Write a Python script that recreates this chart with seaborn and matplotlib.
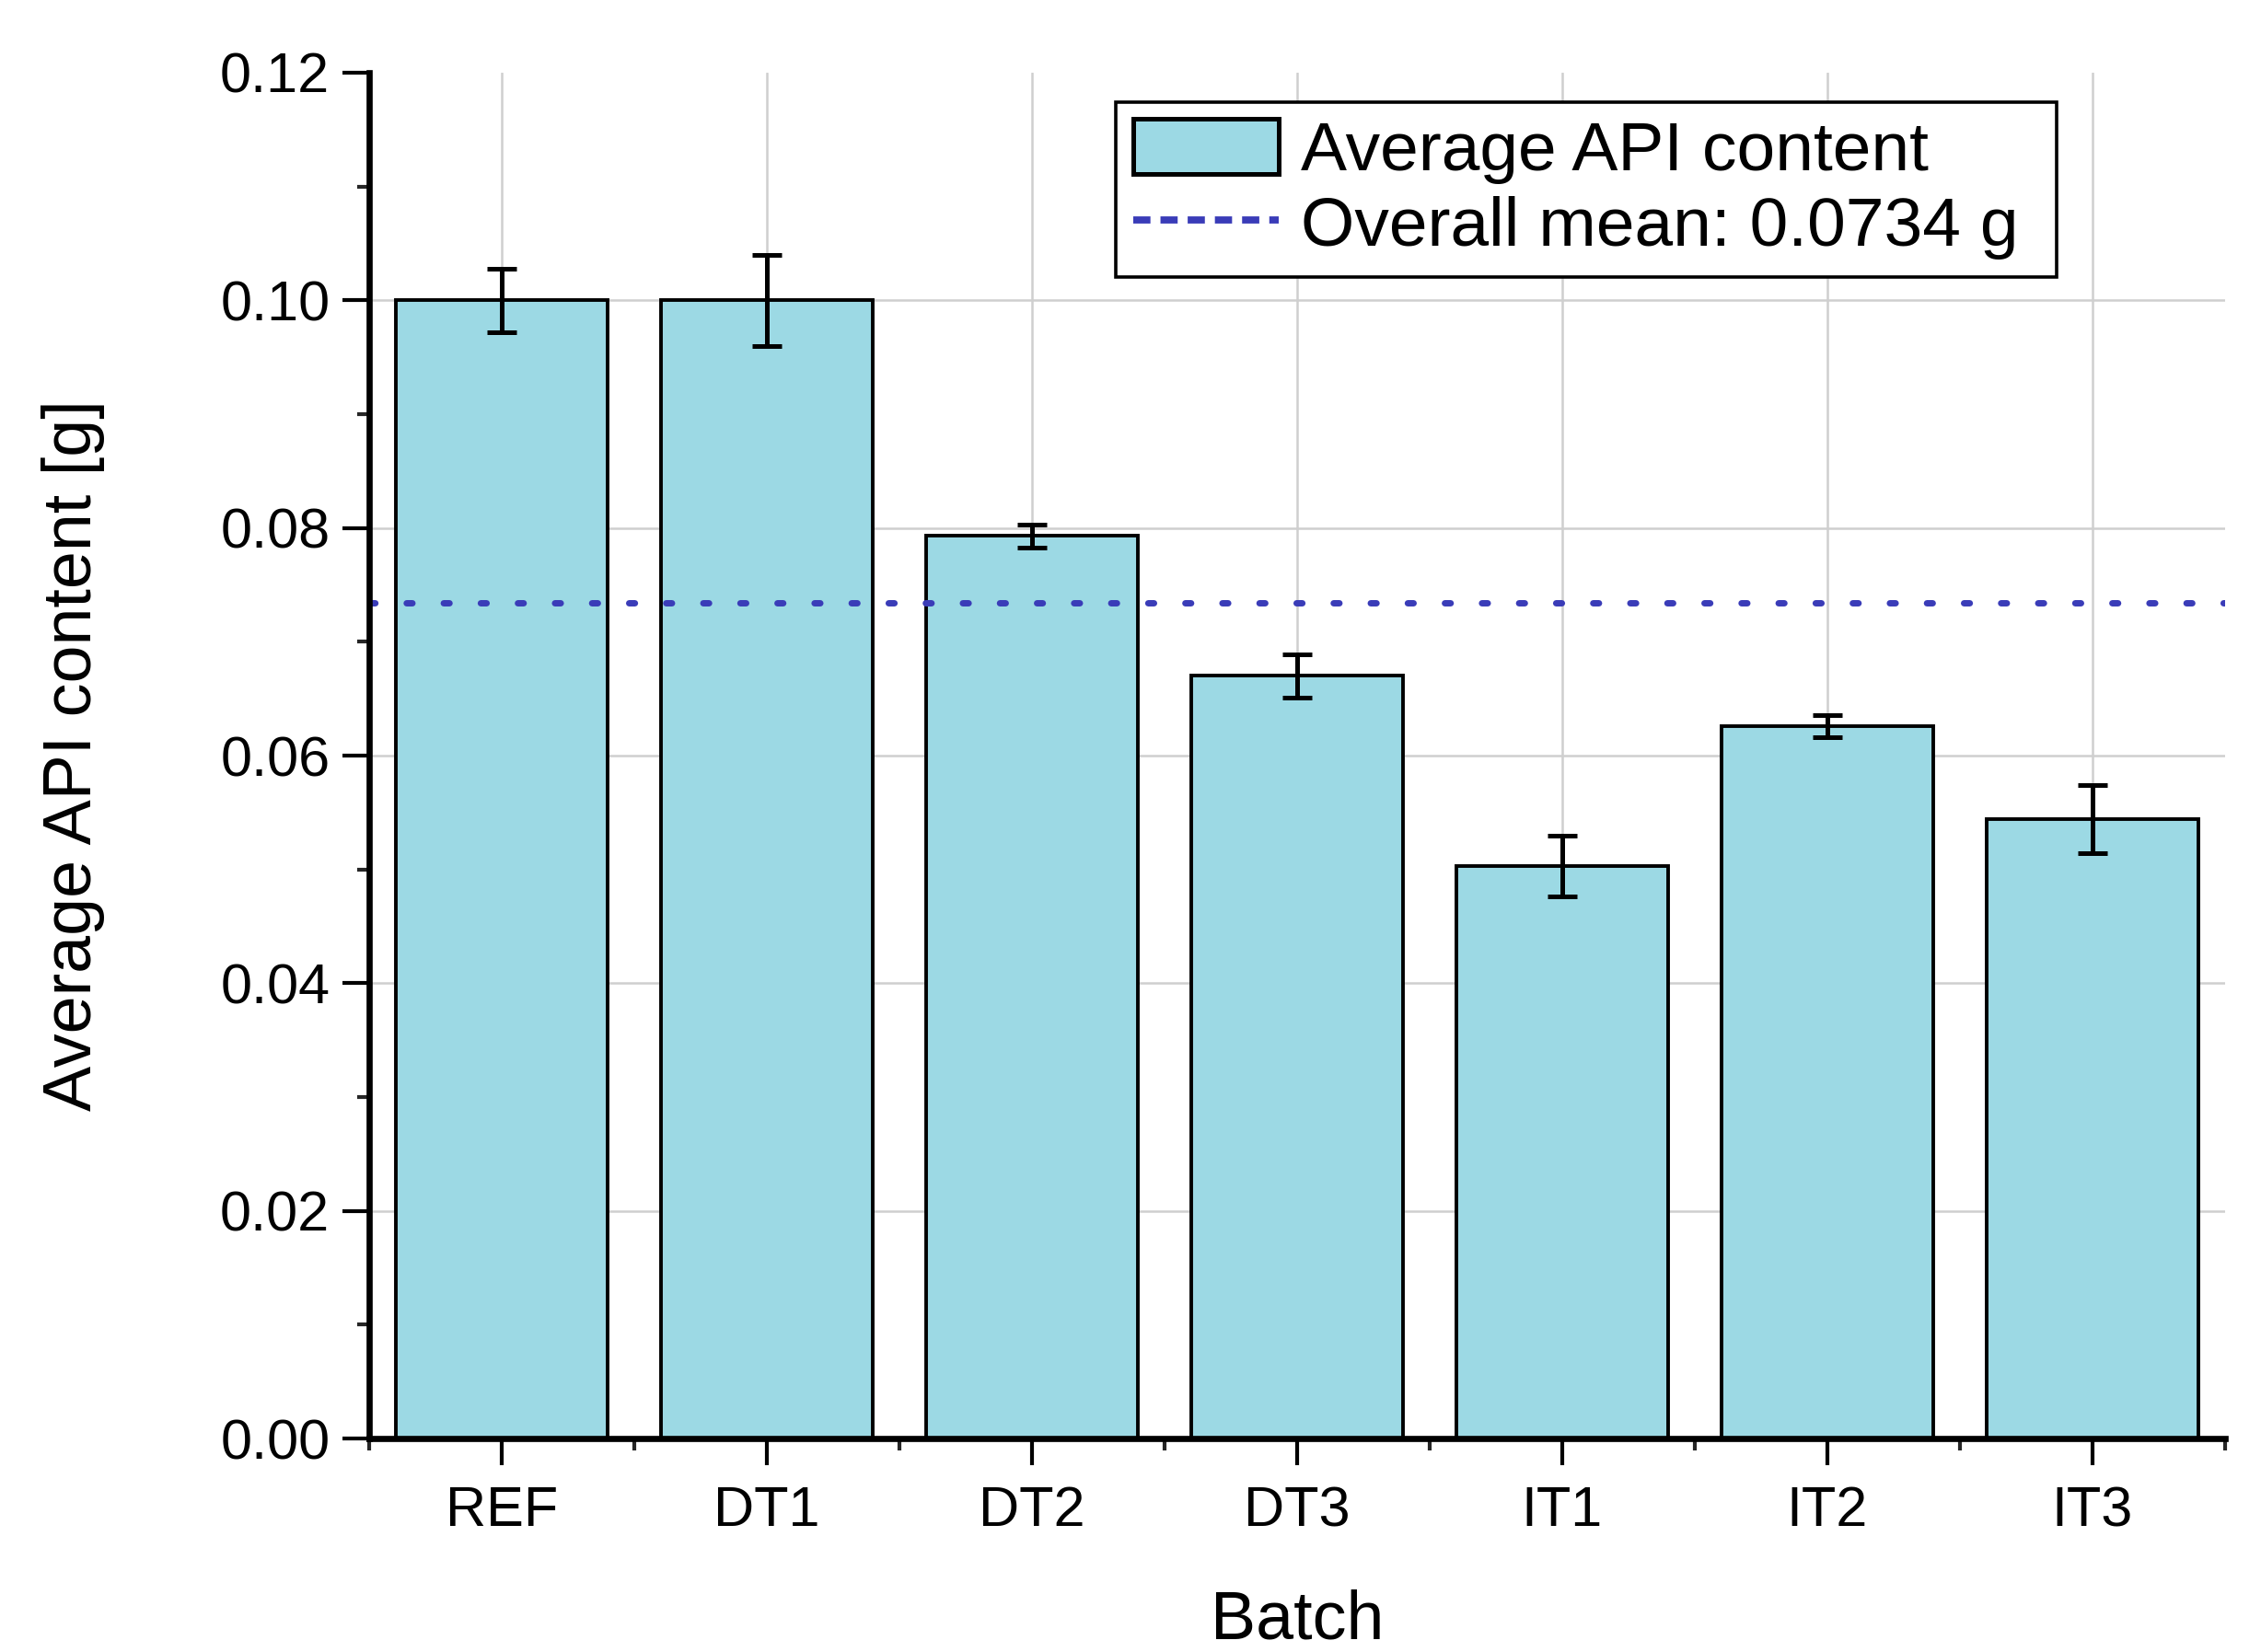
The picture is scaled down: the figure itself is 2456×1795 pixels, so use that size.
import seaborn as sns
import matplotlib.pyplot as plt
import pandas as pd
from matplotlib.lines import Line2D
from matplotlib.patches import Patch
from matplotlib.ticker import MultipleLocator

batches = ['REF', 'DT1', 'DT2', 'DT3', 'IT1', 'IT2', 'IT3']
api_content = [0.1000, 0.1000, 0.0793, 0.0670, 0.0503, 0.0626, 0.0544]
api_err = [0.0028, 0.0040, 0.0010, 0.0019, 0.0027, 0.0010, 0.0030]
overall_mean = 0.0734

sns.set_style('white')
plt.rcParams['font.family'] = ['Liberation Sans', 'DejaVu Sans']
plt.rcParams['text.color'] = 'black'
plt.rcParams['axes.labelcolor'] = 'black'

df = pd.DataFrame({'Batch': batches, 'API': api_content, 'err': api_err})

fig = plt.figure(figsize=(12.28, 8.975), dpi=200)
ax = fig.add_axes([0.1633, 0.1292, 0.8207, 0.8268])

sns.barplot(data=df, x='Batch', y='API', color='#9cd9e4', saturation=1,
            edgecolor='black', linewidth=1.4, width=0.8, errorbar=None, ax=ax, zorder=2)
ax.errorbar(range(len(df)), df['API'], yerr=df['err'], fmt='none', ecolor='black',
            elinewidth=1.8, capsize=5.8, capthick=1.8, zorder=4)
ax.axhline(overall_mean, color='#3a3cb8', lw=2.5, ls=(0, (0.9, 4.9)),
           dash_capstyle='round', zorder=5)

ax.set_xlim(-0.5, len(batches) - 0.5)
ax.set_ylim(0, 0.12)
ax.yaxis.set_major_locator(MultipleLocator(0.02))
ax.yaxis.set_minor_locator(MultipleLocator(0.01))
ax.xaxis.set_minor_locator(MultipleLocator(1, offset=0.5))
ax.set_yticklabels([f'{v:.2f}' for v in ax.get_yticks()])

# grid behind the bars
for i in range(len(batches)):
    ax.axvline(i, color='#cfcfcf', lw=0.9, zorder=0)
for v in [0.02, 0.04, 0.06, 0.08, 0.10]:
    ax.axhline(v, color='#cfcfcf', lw=0.9, zorder=0)

for s in ['top', 'right']:
    ax.spines[s].set_visible(False)
for s in ['left', 'bottom']:
    ax.spines[s].set_linewidth(2.4)
    ax.spines[s].set_color('black')
    ax.spines[s].set_zorder(6)

ax.tick_params(which='major', direction='out', length=10.4, width=1.5, labelsize=22,
               colors='black', bottom=True, left=True)
ax.tick_params(which='minor', direction='out', length=4.8, width=1.5, bottom=True, left=True)
ax.tick_params(axis='x', pad=8)
ax.tick_params(axis='y', pad=5)

ax.set_xlabel('Batch', fontsize=26.5, labelpad=20)
ax.set_ylabel('Average API content [g]', fontsize=26.5, labelpad=45)

handles = [Patch(facecolor='#9cd9e4', edgecolor='black', linewidth=1.8),
           Line2D([0], [0], color='#3a3cb8', lw=2.8, ls=(0, (2.4, 1.4)))]
labels = ['Average API content', f'Overall mean: {overall_mean:.4f} g']
leg = ax.legend(handles, labels, loc='upper left', mode='expand',
                bbox_to_anchor=(0.4025, 0.8547, 0.5071, 0.1239),
                borderaxespad=0, fontsize=27, frameon=True, fancybox=False, framealpha=1,
                edgecolor='black', handlelength=2.1, handleheight=0.84,
                handletextpad=0.32, borderpad=0.25, labelspacing=0.15)
leg.get_frame().set_linewidth(1.3)
leg.set_zorder(10)

fig.savefig('out.png', dpi=200)
